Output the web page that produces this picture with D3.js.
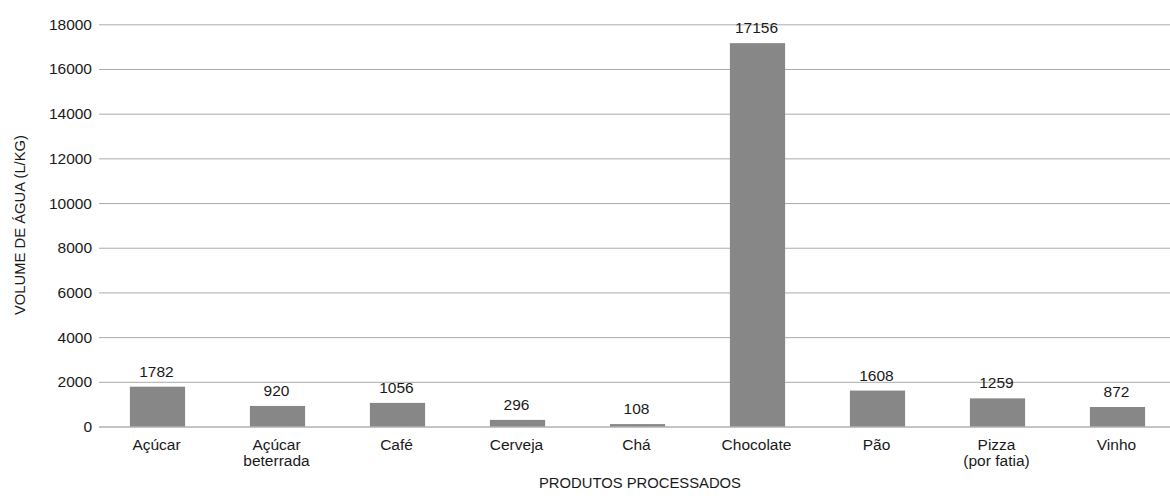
<!DOCTYPE html>
<html>
<head>
<meta charset="utf-8">
<script src="https://cdn.jsdelivr.net/npm/d3@7/dist/d3.min.js"></script>
<style>
  html, body { margin: 0; padding: 0; background: #fff; }
  svg { display: block; font-family: "Liberation Sans", Arial, Helvetica, sans-serif; }
</style>
</head>
<body>
<svg id="chart" width="1170" height="498"></svg>
<script>
// Water footprint of processed products (litres per kg)
const categories = ["Açúcar", "Açúcar\nbeterrada", "Café", "Cerveja", "Chá", "Chocolate", "Pão", "Pizza\n(por fatia)", "Vinho"];
const values = [1782, 920, 1056, 296, 108, 17156, 1608, 1259, 872];
const yTicks = [0, 2000, 4000, 6000, 8000, 10000, 12000, 14000, 16000, 18000];
const yTitle = "VOLUME DE ÁGUA (L/KG)";
const xTitle = "PRODUTOS PROCESSADOS";

const svg = d3.select("#chart");
const plotLeft = 97.5, plotRight = 1177.5, plotTop = 24.3, plotBottom = 426.5;
const ink = "#1a1a1a";

const x = d3.scaleBand().domain(categories).range([plotLeft, plotRight]).paddingInner(0.54).paddingOuter(0.27);
const y = d3.scaleLinear().domain([0, 18000]).range([plotBottom, plotTop]);

// horizontal grid lines with tick labels on the left
const yAxis = d3.axisLeft(y).tickValues(yTicks).tickSize(-(1170 - 99)).tickPadding(7).tickFormat(d3.format("d"));
const gy = svg.append("g").attr("transform", `translate(99,0)`).call(yAxis);
gy.select(".domain").remove();
gy.selectAll(".tick line").attr("stroke", d => d === 0 ? "#8a8a8a" : "#ababab").attr("stroke-width", 1);
gy.selectAll(".tick text").attr("fill", ink).style("font-size", "15.5px").attr("x", -7);

// bars
svg.append("g").selectAll("rect").data(values).join("rect")
  .attr("x", (d, i) => x(categories[i]))
  .attr("width", x.bandwidth())
  .attr("y", d => y(d))
  .attr("height", d => y(0) - y(d))
  .attr("fill", "#878787");

// value labels
svg.append("g").selectAll("text").data(values).join("text")
  .attr("x", (d, i) => x(categories[i]) + x.bandwidth() / 2 - 1)
  .attr("y", d => y(d) - 10)
  .attr("text-anchor", "middle")
  .attr("fill", ink)
  .style("font-size", "15.5px")
  .text(d => d);

// category labels (multi-line)
const cat = svg.append("g").selectAll("text").data(categories).join("text")
  .attr("x", d => x(d) + x.bandwidth() / 2 - 1)
  .attr("y", 450)
  .attr("text-anchor", "middle")
  .attr("fill", ink)
  .style("font-size", "15.5px");
cat.each(function (d) {
  const lines = d.split("\n");
  const t = d3.select(this);
  lines.forEach((ln, k) => {
    t.append("tspan").attr("x", t.attr("x")).attr("dy", k === 0 ? 0 : 16).text(ln);
  });
});

// axis titles
svg.append("text")
  .attr("x", 640).attr("y", 488)
  .attr("text-anchor", "middle")
  .attr("fill", ink)
  .style("font-size", "14.8px")
  .text(xTitle);

svg.append("text")
  .attr("transform", "translate(24.5,225) rotate(-90)")
  .attr("text-anchor", "middle")
  .attr("fill", ink)
  .style("font-size", "14.8px")
  .text(yTitle);
</script>
</body>
</html>
